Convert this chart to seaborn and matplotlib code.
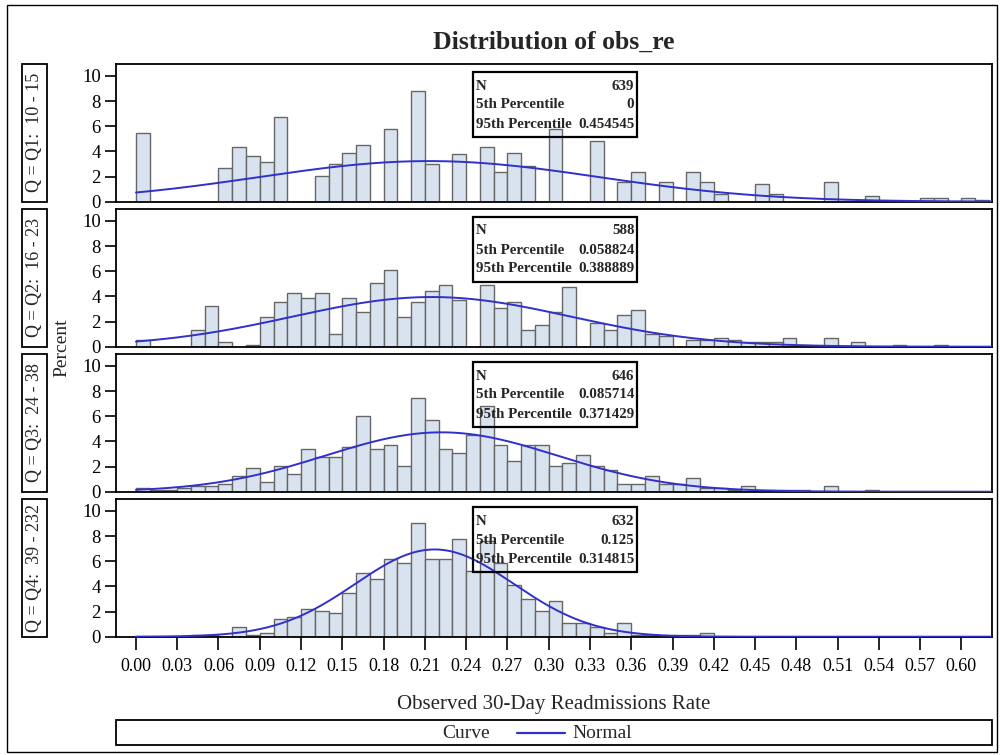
import numpy as np
import pandas as pd
import matplotlib
matplotlib.use("Agg")
import matplotlib.pyplot as plt
from matplotlib.patches import Rectangle
from matplotlib.lines import Line2D
import seaborn as sns

# ---------------- data ----------------
bin_width = 0.01
bin_edges = [round(bin_width * i, 2) for i in range(63)]  # 0.00 ... 0.62

# observation counts per 0.01-wide bin (bins 0..61)
q1_counts = [35, 0, 0, 0, 0, 0, 17, 28, 23, 20,
             43, 0, 0, 13, 19, 25, 29, 0, 37, 0,
             56, 19, 0, 24, 0, 28, 15, 25, 18, 0,
             37, 0, 0, 31, 0, 10, 15, 0, 10, 0,
             15, 10, 4, 0, 0, 9, 4, 0, 0, 0,
             10, 0, 0, 3, 0, 0, 0, 2, 2, 0,
             2, 1]
q2_counts = [3, 0, 0, 0, 8, 19, 2, 0, 1, 14,
             21, 25, 23, 25, 6, 23, 16, 30, 36, 14,
             21, 26, 29, 22, 0, 29, 18, 21, 8, 10,
             16, 28, 0, 11, 8, 15, 17, 6, 5, 0,
             3, 3, 4, 3, 2, 2, 2, 4, 1, 0,
             4, 0, 2, 0, 0, 1, 0, 0, 1, 0,
             0, 0]
q3_counts = [2, 1, 1, 2, 3, 3, 4, 8, 12, 5,
             13, 9, 22, 18, 18, 23, 39, 22, 24, 13,
             48, 37, 22, 20, 29, 44, 24, 16, 24, 24,
             13, 15, 19, 13, 11, 4, 4, 8, 4, 4,
             7, 2, 2, 1, 3, 1, 1, 1, 1, 0,
             3, 0, 0, 1, 0, 0, 0, 0, 0, 0,
             0, 0]
q4_counts = [0, 0, 0, 0, 1, 1, 0, 5, 1, 2,
             9, 10, 14, 13, 12, 22, 32, 29, 39, 37,
             57, 39, 39, 49, 33, 48, 37, 26, 19, 13,
             18, 7, 7, 5, 2, 7, 1, 1, 0, 1,
             1, 2, 0, 0, 0, 0, 0, 0, 0, 0,
             0, 0, 0, 0, 0, 0, 0, 0, 0, 0,
             0, 0]

panel_labels = ["Q = Q1:  10 - 15", "Q = Q2:  16 - 23",
                "Q = Q3:  24 - 38", "Q = Q4:  39 - 232"]
panel_n = [639, 588, 646, 632]
pct5 = ["0", "0.058824", "0.085714", "0.125"]
pct95 = ["0.454545", "0.388889", "0.371429", "0.314815"]
normal_mean = [0.213, 0.215, 0.222, 0.217]
normal_sd = [0.1235, 0.101, 0.0845, 0.0575]

xticks = [0.00, 0.03, 0.06, 0.09, 0.12, 0.15, 0.18, 0.21, 0.24, 0.27, 0.30,
          0.33, 0.36, 0.39, 0.42, 0.45, 0.48, 0.51, 0.54, 0.57, 0.60]
yticks = [0, 2, 4, 6, 8, 10]

title = "Distribution of obs_re"
xlabel = "Observed 30-Day Readmissions Rate"
ylabel = "Percent"

# ---------------- style ----------------
sns.set_style("white")
plt.rcParams["font.family"] = ["Liberation Serif", "DejaVu Serif"]

FILL = "#D9E3F0"
EDGE = "#666666"
CURVE = "#3030CC"

W, H = 1001, 755
fig = plt.figure(figsize=(W / 100, H / 100), dpi=100)

def fx(px):
    return px / W

def fy(py):
    return 1 - py / H

ax_left, ax_right = 116, 991.7
panel_tops = [64, 209, 354, 499]
panel_h = 137.7
xlim = (-0.0145, 0.622)
ylim = (0, 10.95)

counts_all = [q1_counts, q2_counts, q3_counts, q4_counts]
for k in range(4):
    top = panel_tops[k]
    ax = fig.add_axes([fx(ax_left), fy(top + panel_h),
                       fx(ax_right - ax_left), panel_h / H])
    counts = counts_all[k]
    centers = [bin_edges[i] + bin_width / 2 for i in range(len(counts)) if counts[i] > 0]
    pcts = [counts[i] / panel_n[k] * 100 for i in range(len(counts)) if counts[i] > 0]
    df = pd.DataFrame({"x": centers, "pct": pcts})
    sns.histplot(data=df, x="x", weights="pct", bins=bin_edges, ax=ax,
                 color=FILL, edgecolor=EDGE, linewidth=1.0, alpha=1.0,
                 stat="count", zorder=2)
    xs = np.linspace(0, xlim[1], 500)
    mu, sd = normal_mean[k], normal_sd[k]
    ys = 100 * bin_width * np.exp(-(xs - mu) ** 2 / (2 * sd ** 2)) / (sd * np.sqrt(2 * np.pi))
    sns.lineplot(x=xs, y=ys, ax=ax, color=CURVE, linewidth=1.4, zorder=3)

    ax.set_xlim(*xlim)
    ax.set_ylim(*ylim)
    ax.set_yticks(yticks)
    ax.set_yticklabels([str(v) for v in yticks])
    ax.set_xticks(xticks)
    ax.set_ylabel("")
    ax.set_xlabel("")
    ax.tick_params(axis="y", direction="out", length=8, width=1.2,
                   labelsize=13.5, left=True, pad=3, colors="black")
    if k < 3:
        ax.tick_params(axis="x", bottom=False, labelbottom=False)
    else:
        ax.set_xticklabels([f"{v:.2f}" for v in xticks])
        ax.tick_params(axis="x", direction="out", length=9, width=1.2,
                       labelsize=13, bottom=True, pad=6, colors="black")
    for s in ax.spines.values():
        s.set_visible(True)
        s.set_color("black")
        s.set_linewidth(1.3)
    ax.grid(False)

    # inset statistics box
    bx0 = (473 - ax_left) / (ax_right - ax_left)
    bx1 = (637 - ax_left) / (ax_right - ax_left)
    by1 = 1 - 8 / panel_h
    by0 = 1 - 73 / panel_h
    ax.add_patch(Rectangle((bx0, by0), bx1 - bx0, by1 - by0, transform=ax.transAxes,
                           facecolor="none", edgecolor="black", linewidth=1.6, zorder=5))
    rows = [("N", str(panel_n[k])), ("5th Percentile", pct5[k]),
            ("95th Percentile", pct95[k])]
    for r, (lab, val) in enumerate(rows):
        yy = 1 - (22 + 19 * r) / panel_h
        ax.text(bx0 + 0.003, yy, lab, transform=ax.transAxes, fontsize=10.8,
                fontweight="bold", ha="left", va="center", zorder=6)
        ax.text(bx1 - 0.003, yy, val, transform=ax.transAxes, fontsize=10.8,
                fontweight="bold", ha="right", va="center", zorder=6)

    # strip label (left)
    fig.add_artist(Rectangle((fx(22), fy(top + panel_h)), fx(47) - fx(22), panel_h / H,
                             transform=fig.transFigure, facecolor="white",
                             edgecolor="black", linewidth=1.3))
    fig.text(fx(34.5), fy(top + panel_h / 2), panel_labels[k], rotation=90,
             ha="center", va="center", fontsize=13)

# titles and labels
fig.text(fx(554), fy(42), title, ha="center", va="center", fontsize=18.5,
         fontweight="bold")
fig.text(fx(62), fy(348), ylabel, rotation=90, ha="center", va="center", fontsize=14)
fig.text(fx(554), fy(705), xlabel, ha="center", va="center", fontsize=15)

# legend box
fig.add_artist(Rectangle((fx(ax_left), fy(745)), fx(ax_right - ax_left), 25 / H,
                         transform=fig.transFigure, facecolor="white",
                         edgecolor="black", linewidth=1.3))
fig.text(fx(466), fy(733), "Curve", ha="center", va="center", fontsize=14)
fig.add_artist(Line2D([fx(517), fx(565)], [fy(733), fy(733)], transform=fig.transFigure,
                      color=CURVE, linewidth=1.6))
fig.text(fx(572), fy(733), "Normal", ha="left", va="center", fontsize=14)

# outer border
fig.add_artist(Rectangle((fx(7), fy(752)), fx(990), 747 / H, transform=fig.transFigure,
                         facecolor="none", edgecolor="black", linewidth=1.0))

fig.savefig("out.png", dpi=100)
